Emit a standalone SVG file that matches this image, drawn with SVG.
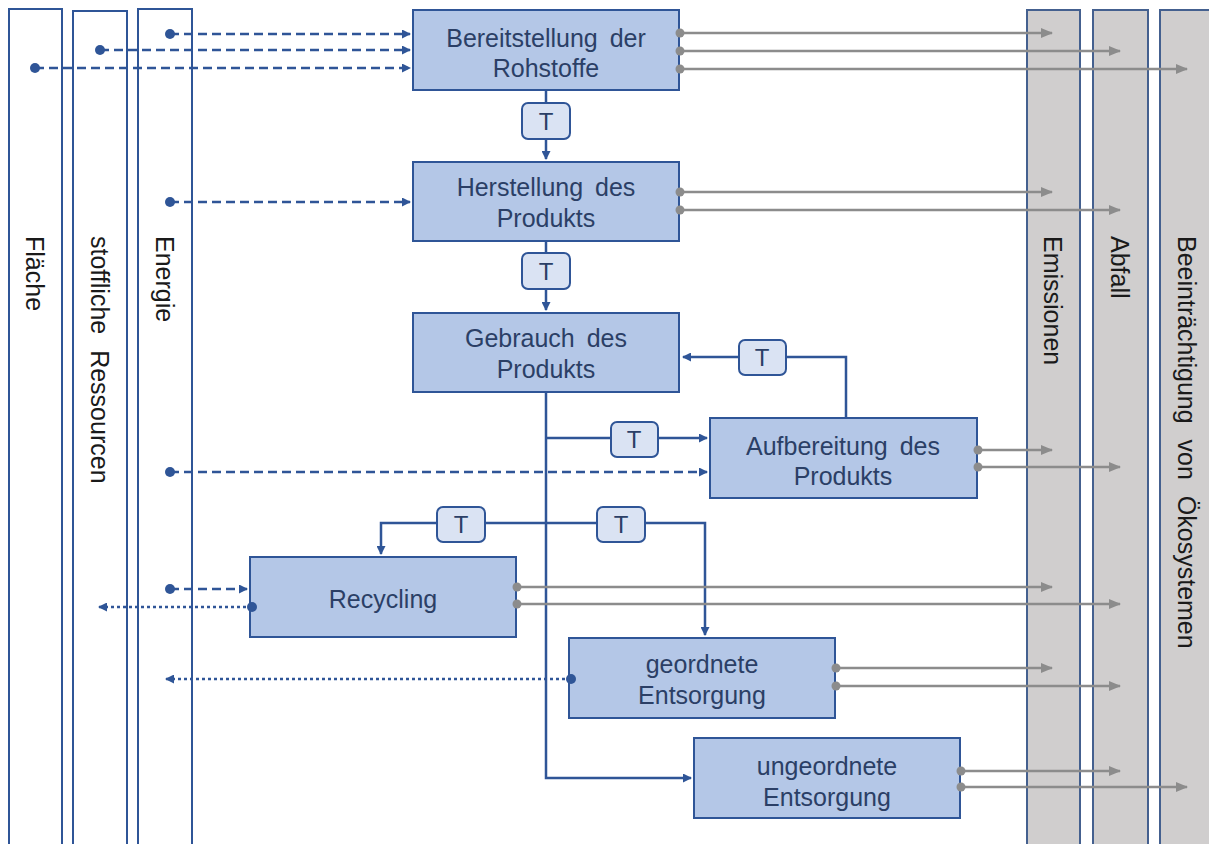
<svg xmlns="http://www.w3.org/2000/svg" width="1209" height="844" viewBox="0 0 1209 844">
<style>
.col{fill:#ffffff;stroke:#2F5597;stroke-width:2}
.gcol{fill:#D0CECE;stroke:#44608F;stroke-width:2}
.box{fill:#B4C7E7;stroke:#2F5597;stroke-width:2}
.t{fill:#DAE3F3;stroke:#2F5597;stroke-width:2}
.lbl{font-family:"Liberation Sans",Arial,sans-serif;font-size:25px;fill:#2B3F66;text-anchor:middle;word-spacing:5px}
.tl{font-family:"Liberation Sans",Arial,sans-serif;font-size:24px;fill:#2B3F66;text-anchor:middle}
.ctext{font-family:"Liberation Sans",Arial,sans-serif;font-size:25px;fill:#1a1a1a;word-spacing:9px}
.flow{fill:none;stroke:#2F5597;stroke-width:2.5}
.dash{fill:none;stroke:#2F5597;stroke-width:2.5;stroke-dasharray:9 5}
.dot{fill:none;stroke:#2F5597;stroke-width:2.5;stroke-dasharray:3 3}
.gray{fill:none;stroke:#8C8C8C;stroke-width:2.5}
.bd{fill:#2F5597}
.gd{fill:#8C8C8C}
</style>
<defs>
<marker id="ab" markerWidth="9" markerHeight="9" refX="8" refY="4.5" orient="auto" markerUnits="userSpaceOnUse" viewBox="0 0 9 9"><path d="M0,0 L9,4.5 L0,9 z" fill="#2F5597"/></marker>
<marker id="ag" markerWidth="12" markerHeight="10" refX="11" refY="5" orient="auto" markerUnits="userSpaceOnUse" viewBox="0 0 12 10"><path d="M0,0 L12,5 L0,10 z" fill="#8C8C8C"/></marker>
</defs>

<g id="col-flaeche"><rect class="col" x="9" y="9" width="53" height="845"/><text class="ctext" transform="translate(35,236) rotate(90)" dy="0.35em">Fläche</text></g>
<g id="col-stoff"><rect class="col" x="73" y="11" width="54" height="845"/><text class="ctext" transform="translate(100,236) rotate(90)" dy="0.35em">stoffliche Ressourcen</text></g>
<g id="col-energie"><rect class="col" x="138" y="9" width="54" height="845"/><text class="ctext" transform="translate(165,236) rotate(90)" dy="0.35em">Energie</text></g>
<g id="col-emissionen"><rect class="gcol" x="1027" y="10" width="53" height="845"/><text class="ctext" transform="translate(1053,236) rotate(90)" dy="0.35em">Emissionen</text></g>
<g id="col-abfall"><rect class="gcol" x="1093" y="10" width="55" height="845"/><text class="ctext" transform="translate(1120,236) rotate(90)" dy="0.35em">Abfall</text></g>
<g id="col-oeko"><rect class="gcol" x="1160" y="10" width="60" height="845"/><text class="ctext" transform="translate(1187,236) rotate(90)" dy="0.35em">Beeinträchtigung von Ökosystemen</text></g>

<g id="bereitstellung"><rect class="box" x="413" y="10" width="266" height="80"/><text class="lbl" x="546" y="47">Bereitstellung der</text><text class="lbl" x="546" y="77">Rohstoffe</text></g>
<g id="herstellung"><rect class="box" x="413" y="162" width="266" height="79"/><text class="lbl" x="546" y="196">Herstellung des</text><text class="lbl" x="546" y="227">Produkts</text></g>
<g id="gebrauch"><rect class="box" x="413" y="313" width="266" height="79"/><text class="lbl" x="546" y="347">Gebrauch des</text><text class="lbl" x="546" y="378">Produkts</text></g>
<g id="aufbereitung"><rect class="box" x="710" y="418" width="267" height="80"/><text class="lbl" x="843" y="455">Aufbereitung des</text><text class="lbl" x="843" y="485">Produkts</text></g>
<g id="recycling"><rect class="box" x="250" y="557" width="266" height="80"/><text class="lbl" x="383" y="608">Recycling</text></g>
<g id="geordnete"><rect class="box" x="569" y="638" width="266" height="80"/><text class="lbl" x="702" y="673">geordnete</text><text class="lbl" x="702" y="704">Entsorgung</text></g>
<g id="ungeordnete"><rect class="box" x="694" y="738" width="266" height="80"/><text class="lbl" x="827" y="775">ungeordnete</text><text class="lbl" x="827" y="806">Entsorgung</text></g>

<g id="connectors">
<path class="dash" d="M170,34 H410" marker-end="url(#ab)"/>
<path class="dash" d="M100,50 H410" marker-end="url(#ab)"/>
<path class="dash" d="M35,68 H410" marker-end="url(#ab)"/>
<path class="dash" d="M170,202 H410" marker-end="url(#ab)"/>
<path class="dash" d="M170,472 H707" marker-end="url(#ab)"/>
<path class="dash" d="M170,589 H247" marker-end="url(#ab)"/>
<circle class="bd" cx="170" cy="34" r="5"/>
<circle class="bd" cx="100" cy="50" r="5"/>
<circle class="bd" cx="35" cy="68" r="5"/>
<circle class="bd" cx="170" cy="202" r="5"/>
<circle class="bd" cx="170" cy="472" r="5"/>
<circle class="bd" cx="170" cy="589" r="5"/>
<path class="dot" d="M252,607 H99" marker-end="url(#ab)"/>
<circle class="bd" cx="252" cy="607" r="5"/>
<path class="dot" d="M571,679 H166" marker-end="url(#ab)"/>
<circle class="bd" cx="571" cy="679" r="5"/>
<path class="flow" d="M546,90 V159" marker-end="url(#ab)"/>
<path class="flow" d="M546,241 V310" marker-end="url(#ab)"/>
<path class="flow" d="M546,392 V778 H691" marker-end="url(#ab)"/>
<path class="flow" d="M546,438 H707" marker-end="url(#ab)"/>
<path class="flow" d="M846,418 V357 H683" marker-end="url(#ab)"/>
<path class="flow" d="M546,523 H381 V554" marker-end="url(#ab)"/>
<path class="flow" d="M546,523 H705 V635" marker-end="url(#ab)"/>
<path class="gray" d="M679,33 H1052" marker-end="url(#ag)"/>
<path class="gray" d="M679,51 H1120" marker-end="url(#ag)"/>
<path class="gray" d="M679,69 H1187" marker-end="url(#ag)"/>
<path class="gray" d="M679,192 H1052" marker-end="url(#ag)"/>
<path class="gray" d="M679,210 H1120" marker-end="url(#ag)"/>
<path class="gray" d="M977,450 H1052" marker-end="url(#ag)"/>
<path class="gray" d="M977,467 H1120" marker-end="url(#ag)"/>
<path class="gray" d="M516,587 H1052" marker-end="url(#ag)"/>
<path class="gray" d="M516,604 H1120" marker-end="url(#ag)"/>
<path class="gray" d="M835,668 H1052" marker-end="url(#ag)"/>
<path class="gray" d="M835,686 H1120" marker-end="url(#ag)"/>
<path class="gray" d="M960,771 H1120" marker-end="url(#ag)"/>
<path class="gray" d="M960,787 H1187" marker-end="url(#ag)"/>
<g class="gd">
<circle cx="680" cy="33" r="4.5"/><circle cx="680" cy="51" r="4.5"/><circle cx="680" cy="69" r="4.5"/>
<circle cx="680" cy="192" r="4.5"/><circle cx="680" cy="210" r="4.5"/>
<circle cx="978" cy="450" r="4.5"/><circle cx="978" cy="467" r="4.5"/>
<circle cx="517" cy="587" r="4.5"/><circle cx="517" cy="604" r="4.5"/>
<circle cx="836" cy="668" r="4.5"/><circle cx="836" cy="686" r="4.5"/>
<circle cx="961" cy="771" r="4.5"/><circle cx="961" cy="787" r="4.5"/>
</g>
</g>

<g id="t1"><rect class="t" x="522" y="103" width="48" height="36" rx="6"/><text class="tl" x="546" y="130">T</text></g>
<g id="t2"><rect class="t" x="522" y="253" width="48" height="36" rx="6"/><text class="tl" x="546" y="280">T</text></g>
<g id="t3"><rect class="t" x="739" y="340" width="47" height="35" rx="6"/><text class="tl" x="762" y="366">T</text></g>
<g id="t4"><rect class="t" x="611" y="422" width="47" height="35" rx="6"/><text class="tl" x="634" y="448">T</text></g>
<g id="t5"><rect class="t" x="437" y="507" width="48" height="35" rx="6"/><text class="tl" x="461" y="533">T</text></g>
<g id="t6"><rect class="t" x="597" y="507" width="48" height="35" rx="6"/><text class="tl" x="621" y="533">T</text></g>
</svg>
